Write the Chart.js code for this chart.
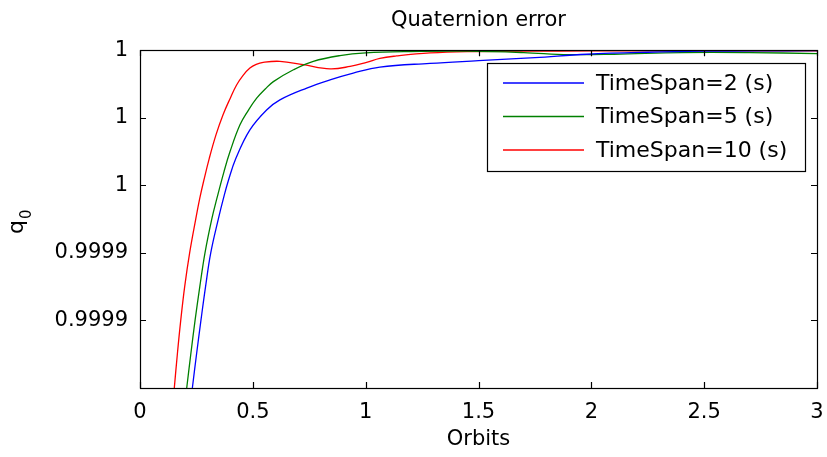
<!DOCTYPE html>
<html>
<head>
<meta charset="utf-8">
<script src="https://cdn.jsdelivr.net/npm/chart.js@4.4.1/dist/chart.umd.min.js"></script>
<style>
  html, body { margin: 0; padding: 0; background: #ffffff; }
  #wrap { width: 827px; height: 457px; }
</style>
</head>
<body>
<div id="wrap"><canvas id="c" width="827" height="457"></canvas></div>
<script>
// ---- data ----
const seriesLabels = ['TimeSpan=2 (s)', 'TimeSpan=5 (s)', 'TimeSpan=10 (s)'];
const seriesColors = ['#0000ff', '#008000', '#ff0000'];

const blueX = [0.214,0.232,0.2505,0.270,0.2905,0.3135,0.347,0.370,0.392,0.425,0.487,0.561,0.620,0.739,0.842,0.945,1.063,1.285,1.5,1.75,1.98,2.25,2.5,2.75,3.0];
const blueY = [0.99989,0.99990,0.99991,0.99992,0.99993,0.99994,0.99995,0.9999562,0.9999615,0.999968,0.9999764,0.9999823,0.9999853,0.9999888,0.9999912,0.9999932,0.999995,0.9999961,0.9999969,0.9999978,0.9999988,0.9999994,0.9999997,0.9999998,0.99999985];

const greenX = [0.189,0.207,0.225,0.244,0.265,0.288,0.318,0.341,0.372,0.399,0.443,0.480,0.517,0.555,0.591,0.680,0.768,0.886,1.0,1.2,1.45,1.7,1.9,2.1,2.4,2.7,3.0];
const greenY = [0.99989,0.99990,0.99991,0.99992,0.99993,0.99994,0.99995,0.9999562,0.999964,0.99997,0.9999779,0.9999822,0.9999858,0.9999885,0.9999907,0.9999942,0.9999967,0.9999984,0.9999992,0.9999996,0.9999997,0.9999993,0.9999987,0.9999988,0.9999993,0.9999993,0.999999];

const redX = [0.139,0.152,0.1655,0.1805,0.198,0.220,0.247,0.265,0.283,0.307,0.337,0.368,0.400,0.428,0.456,0.487,0.515,0.546,0.620,0.724,0.842,0.931,1.004,1.063,1.137,1.285,1.45,1.7,2.0,2.5,3.0];
const redY = [0.99989,0.99990,0.99991,0.99992,0.99993,0.99994,0.99995,0.9999562,0.9999615,0.999968,0.999975,0.9999809,0.9999858,0.9999897,0.9999925,0.9999947,0.9999958,0.9999964,0.9999967,0.9999957,0.9999945,0.9999952,0.9999964,0.9999976,0.9999983,0.9999992,0.9999996,0.9999997,0.9999998,0.9999998,0.9999998];

const xTickValues = [0, 0.5, 1, 1.5, 2, 2.5, 3];
const xTickLabels = ['0', '0.5', '1', '1.5', '2', '2.5', '3'];
const yTickValues = [0.99992, 0.99994, 0.99996, 0.99998, 1.0];
const yTickLabels = ['0.9999', '0.9999', '1', '1', '1'];

const FONT = "'DejaVu Sans', sans-serif";

function pts(xs, ys) { return xs.map((x, i) => ({ x: x, y: ys[i] })); }

const frameTicks = {
  id: 'frameTicks',
  afterDatasetsDraw(chart) {
    const { ctx, chartArea: a, scales } = chart;
    const L = 6;
    ctx.save();
    ctx.strokeStyle = '#000';
    ctx.lineWidth = 1.2;
    ctx.beginPath();
    xTickValues.forEach(v => {
      const px = Math.round(scales.x.getPixelForValue(v)) + 0.5;
      ctx.moveTo(px, a.bottom); ctx.lineTo(px, a.bottom - L);
      ctx.moveTo(px, a.top); ctx.lineTo(px, a.top + L);
    });
    yTickValues.forEach(v => {
      const py = Math.round(scales.y.getPixelForValue(v)) + 0.5;
      ctx.moveTo(a.left, py); ctx.lineTo(a.left + L, py);
      ctx.moveTo(a.right, py); ctx.lineTo(a.right - L, py);
    });
    ctx.stroke();
    ctx.strokeRect(Math.round(a.left) + 0.5, Math.round(a.top) + 0.5,
                   Math.round(a.right - a.left), Math.round(a.bottom - a.top));

    // legend box
    const bx = 487, by = 63, bw = 318, bh = 108;
    ctx.fillStyle = '#fff';
    ctx.fillRect(bx, by, bw, bh);
    ctx.lineWidth = 1.2;
    ctx.strokeRect(bx + 0.5, by + 0.5, bw, bh);
    chart.data.datasets.forEach((ds, i) => {
      const ry = 83 + i * 33.5;
      ctx.strokeStyle = ds.borderColor;
      ctx.lineWidth = 1.3;
      ctx.beginPath();
      ctx.moveTo(503, ry); ctx.lineTo(584, ry);
      ctx.stroke();
      ctx.fillStyle = '#000';
      ctx.font = '22px ' + FONT;
      ctx.textBaseline = 'middle';
      ctx.textAlign = 'left';
      ctx.fillText(ds.label, 596, ry + 1);
    });

    // y axis title q_0
    ctx.save();
    ctx.translate(23, 234);
    ctx.rotate(-Math.PI / 2);
    ctx.fillStyle = '#000';
    ctx.textBaseline = 'alphabetic';
    ctx.textAlign = 'left';
    ctx.font = '22px ' + FONT;
    ctx.fillText('q', 0, 0);
    const qw = ctx.measureText('q').width;
    ctx.font = '15px ' + FONT;
    ctx.fillText('0', qw + 1, 8);
    ctx.restore();
    ctx.restore();
  }
};

new Chart(document.getElementById('c'), {
  type: 'line',
  data: {
    datasets: [
      { label: seriesLabels[0], data: pts(blueX, blueY), borderColor: seriesColors[0] },
      { label: seriesLabels[1], data: pts(greenX, greenY), borderColor: seriesColors[1] },
      { label: seriesLabels[2], data: pts(redX, redY), borderColor: seriesColors[2] }
    ]
  },
  options: {
    responsive: false,
    animation: false,
    parsing: false,
    layout: { padding: { left: 0, right: 0, top: 0, bottom: 0 } },
    elements: {
      point: { radius: 0 },
      line: { borderWidth: 1.3, tension: 0.4, cubicInterpolationMode: 'default', fill: false }
    },
    plugins: {
      legend: { display: false },
      tooltip: { enabled: false },
      title: {
        display: true,
        fullSize: false,
        text: 'Quaternion error',
        color: '#000',
        font: { family: FONT, size: 21, weight: 'normal' },
        padding: { top: 8, bottom: 17 }
      }
    },
    scales: {
      x: {
        type: 'linear',
        min: 0, max: 3,
        afterBuildTicks: s => { s.ticks = xTickValues.map(v => ({ value: v })); },
        afterFit: s => { s.height = 69; s.paddingLeft = 0; s.paddingRight = 10; },
        grid: { display: false, drawTicks: false },
        border: { display: false },
        ticks: {
          color: '#000',
          font: { family: FONT, size: 21 },
          padding: 12,
          maxRotation: 0,
          callback: (v, i) => xTickLabels[i]
        },
        title: {
          display: true,
          text: 'Orbits',
          color: '#000',
          font: { family: FONT, size: 21 },
          padding: { top: 0, bottom: 5 }
        }
      },
      y: {
        type: 'linear',
        min: 0.9999, max: 1.0,
        afterBuildTicks: s => { s.ticks = yTickValues.map(v => ({ value: v })); },
        afterFit: s => { s.width = 140; s.paddingTop = 0; s.paddingBottom = 0; },
        grid: { display: false, drawTicks: false },
        border: { display: false },
        ticks: {
          color: '#000',
          font: { family: FONT, size: 21 },
          padding: 12,
          callback: (v, i) => yTickLabels[i]
        }
      }
    }
  },
  plugins: [frameTicks]
});
</script>
</body>
</html>
